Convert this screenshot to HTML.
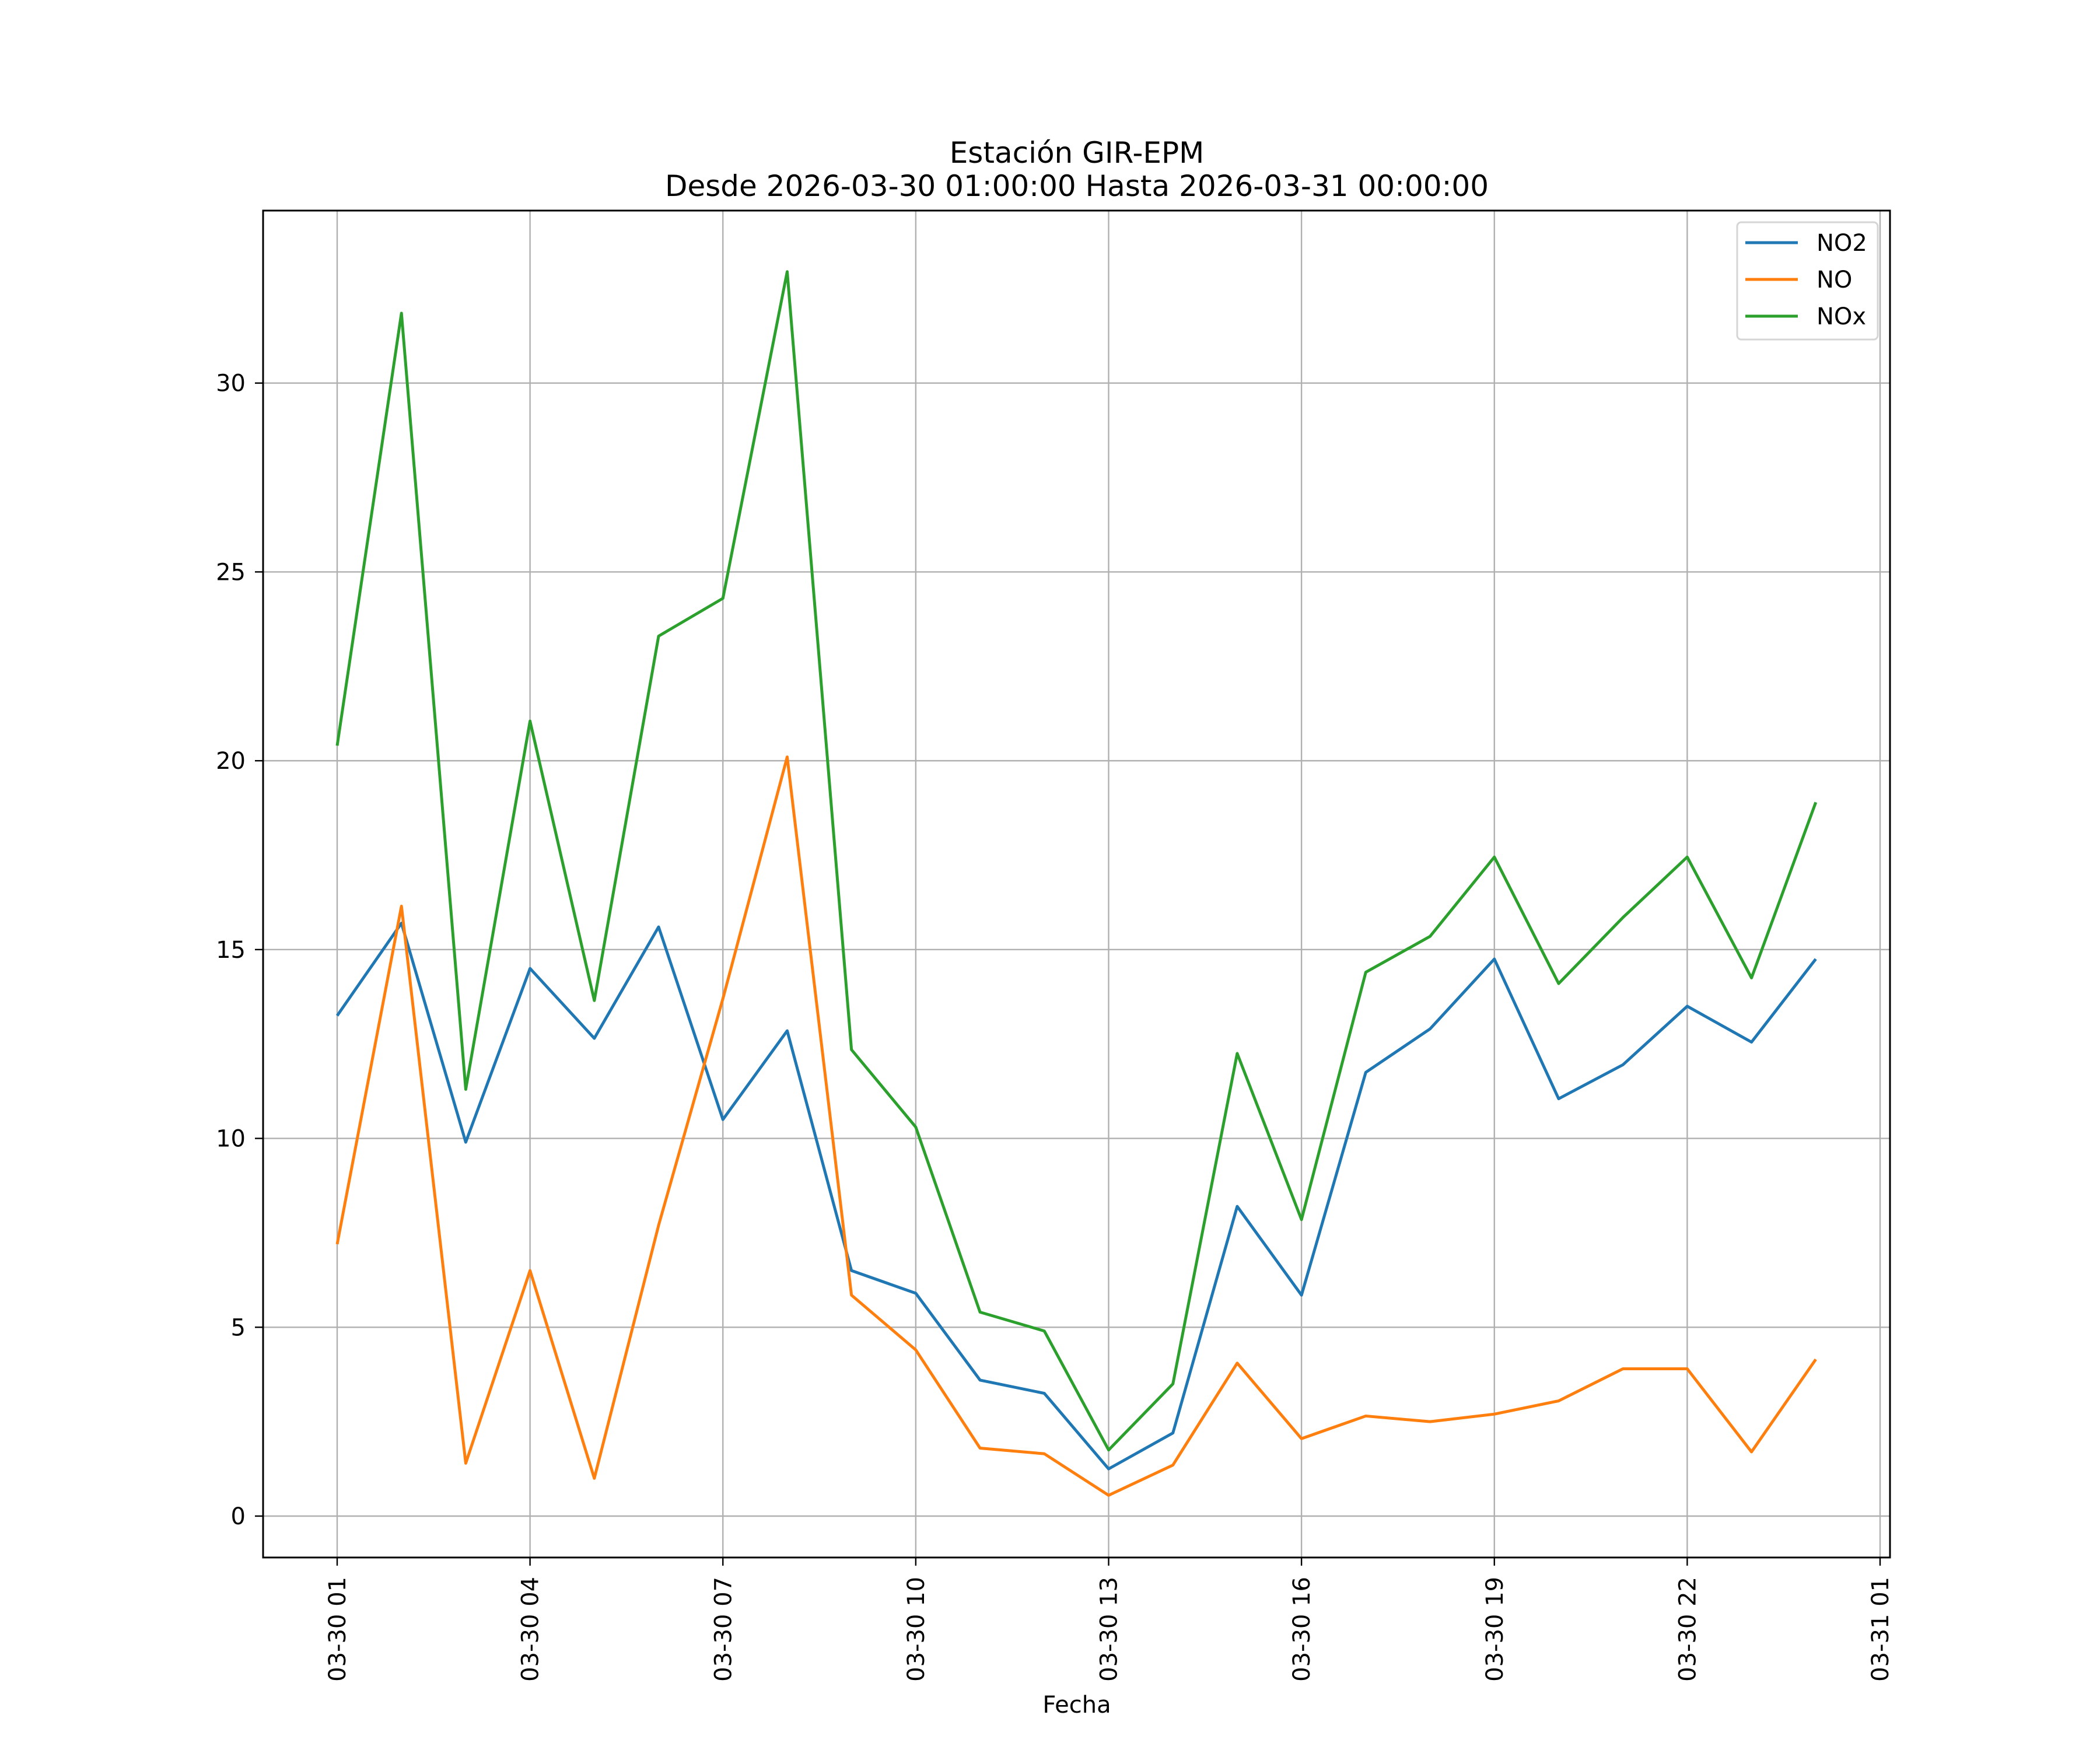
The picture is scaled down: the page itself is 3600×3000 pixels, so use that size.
<!DOCTYPE html>
<html><head><meta charset="utf-8"><style>
html,body{margin:0;padding:0;background:#fff;}
svg{display:block;font-family:"DejaVu Sans","Liberation Sans",sans-serif;}
</style></head><body>
<svg id="chart" width="3600" height="3000" viewBox="0 0 3600 3000" xmlns="http://www.w3.org/2000/svg">
<rect width="3600" height="3000" fill="#fff"/>
<text x="1846" y="279" font-size="50" text-anchor="middle">Estación GIR-EPM</text>
<text x="1846" y="336" font-size="50" text-anchor="middle">Desde 2026-03-30 01:00:00 Hasta 2026-03-31 00:00:00</text>
<g id="grid"></g>
<g id="series"></g>
<rect x="451" y="361" width="2789" height="2309" fill="none" stroke="#000" stroke-width="3"/>
<g id="ticks"></g>
<text x="1846" y="2936" font-size="40" text-anchor="middle">Fecha</text>
<g>
<rect x="2978" y="381" width="241" height="201" rx="7" fill="#fff" fill-opacity="0.8" stroke="#d5d5d5" stroke-width="3"/>
<g id="legend"></g>
</g>
</svg>
<script>
const hours = [1,2,3,4,5,6,7,8,9,10,11,12,13,14,15,16,17,18,19,20,21,22,23,24];
const no2 = [13.25,15.7,9.9,14.5,12.65,15.6,10.5,12.85,6.5,5.9,3.6,3.25,1.25,2.2,8.2,5.85,11.75,12.9,14.75,11.05,11.95,13.5,12.55,14.75];
const no = [7.2,16.15,1.4,6.5,1.0,7.7,13.7,20.1,5.85,4.4,1.8,1.65,0.55,1.35,4.05,2.05,2.65,2.5,2.7,3.05,3.9,3.9,1.7,4.15];
const nox = [20.4,31.85,11.3,21.05,13.65,23.3,24.3,32.95,12.35,10.3,5.4,4.9,1.75,3.5,12.25,7.85,14.4,15.35,17.45,14.1,15.85,17.45,14.25,18.9];
const seriesNames = ["NO2","NO","NOx"];
const xTickHours = [1,4,7,10,13,16,19,22,25];
const xTickLabels = ["03-30 01","03-30 04","03-30 07","03-30 10","03-30 13","03-30 16","03-30 19","03-30 22","03-31 01"];
const yTicks = [0,5,10,15,20,25,30];

const colors = ["#1f77b4","#ff7f0e","#2ca02c"];
const X0=451,X1=3240,Y0=361,Y1=2670;
function xs(h){return 578 + (h-1)*((3223-578)/24);}
function ys(v){return 2599 - v*((2599-656.7)/30);}
const NS="http://www.w3.org/2000/svg";
function mk(tag,attrs,parent){const e=document.createElementNS(NS,tag);for(const k in attrs)e.setAttribute(k,attrs[k]);parent.appendChild(e);return e;}
const grid=document.getElementById('grid'),ticks=document.getElementById('ticks'),ser=document.getElementById('series'),leg=document.getElementById('legend');
xTickHours.forEach((h,i)=>{
  const x=xs(h);
  const g=mk('line',{x1:x,x2:x,y1:Y0,y2:Y1,stroke:'#b0b0b0','stroke-width':2.4},grid);
  
  
  const t=mk('line',{x1:x,x2:x,y1:Y1,y2:Y1+14,stroke:'#000','stroke-width':2.4},ticks);
  
  
  const l=mk('text',{x:0,y:0,'font-size':40,'text-anchor':'end',transform:`translate(${x+14},${Y1+33}) rotate(-90)`},ticks);
  l.textContent=xTickLabels[i];
  
  
});
yTicks.forEach(v=>{
  const y=ys(v);
  const g=mk('line',{x1:X0,x2:X1,y1:y,y2:y,stroke:'#b0b0b0','stroke-width':2.4},grid);
  
  
  const t=mk('line',{x1:X0-14,x2:X0,y1:y,y2:y,stroke:'#000','stroke-width':2.4},ticks);
  
  
  const l=mk('text',{x:X0-30,y:y+14,'font-size':40,'text-anchor':'end'},ticks);
  l.textContent=v;
  
  
});
[no2,no,nox].forEach((vals,si)=>{
  const pts=vals.map((v,i)=>xs(hours[i]).toFixed(2)+','+ys(v).toFixed(2)).join(' ');
  const p=mk('polyline',{points:pts,fill:'none',stroke:colors[si],'stroke-width':5,'stroke-linejoin':'round'},ser);
  
  
  const y=416+si*63;
  const ll=mk('line',{x1:2992,x2:3082,y1:y,y2:y,stroke:colors[si],'stroke-width':5},leg);
  
  
  const lt=mk('text',{x:3114,y:y+14,'font-size':40},leg);
  lt.textContent=seriesNames[si];
  
  
});
</script>
</body></html>
